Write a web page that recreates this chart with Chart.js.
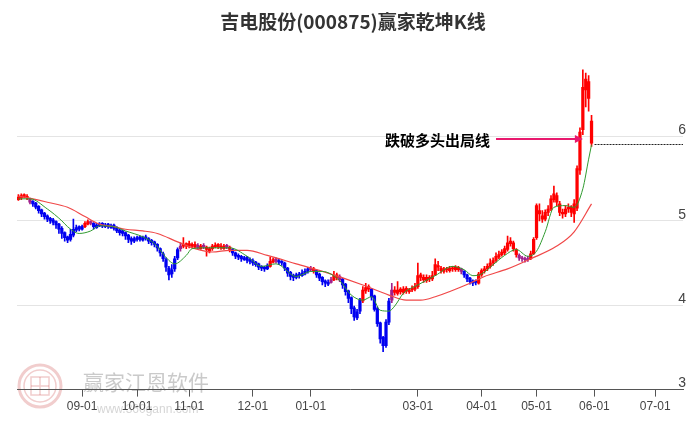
<!DOCTYPE html>
<html>
<head>
<meta charset="utf-8">
<script src="https://cdn.jsdelivr.net/npm/chart.js@4.4.1/dist/chart.umd.min.js"></script>
<style>
  html, body { margin: 0; padding: 0; background: #fff; }
  #wrap { width: 689px; height: 427px; position: relative; }
</style>
</head>
<body>
<div id="wrap"><canvas id="kline"></canvas></div>
<script>
// daily K-line values (trading day index 0..198)
const openPrices = [
  5.25, 5.27, 5.31, 5.29, 5.26, 5.23, 5.21, 5.17, 5.13, 5.09,
  5.06, 5.03, 5.01, 4.99, 4.96, 4.91, 4.86, 4.81, 4.78, 4.83,
  4.89, 4.93, 4.90, 4.93, 4.96, 4.99, 4.97, 4.92, 4.94, 4.97,
  4.93, 4.96, 4.92, 4.95, 4.92, 4.89, 4.88, 4.86, 4.83, 4.79,
  4.76, 4.78, 4.81, 4.77, 4.81, 4.79, 4.77, 4.75, 4.72, 4.67,
  4.61, 4.54, 4.44, 4.37, 4.43, 4.56, 4.67, 4.70, 4.73, 4.70,
  4.72, 4.69, 4.71, 4.67, 4.71, 4.69, 4.64, 4.67, 4.69, 4.72,
  4.70, 4.67, 4.71, 4.69, 4.66, 4.62, 4.59, 4.58, 4.54, 4.57,
  4.54, 4.53, 4.51, 4.49, 4.46, 4.45, 4.43, 4.46, 4.51, 4.55,
  4.53, 4.52, 4.50, 4.44, 4.39, 4.35, 4.33, 4.37, 4.35, 4.37,
  4.40, 4.44, 4.43, 4.41, 4.37, 4.33, 4.29, 4.25, 4.27, 4.30,
  4.36, 4.34, 4.31, 4.25, 4.17, 4.09, 3.97, 3.85, 3.93, 4.05,
  4.17, 4.22, 4.19, 4.11, 3.96, 3.79, 3.62, 3.52, 3.80, 4.06,
  4.18, 4.14, 4.19, 4.15, 4.20, 4.16, 4.18, 4.19, 4.22, 4.36,
  4.33, 4.29, 4.33, 4.31, 4.36, 4.47, 4.44, 4.40, 4.43, 4.41,
  4.44, 4.42, 4.45, 4.43, 4.40, 4.36, 4.32, 4.29, 4.27, 4.26,
  4.36, 4.41, 4.43, 4.46, 4.50, 4.53, 4.57, 4.60, 4.62, 4.66,
  4.73, 4.74, 4.66, 4.59, 4.56, 4.55, 4.54, 4.55, 4.61, 4.80,
  5.12, 5.06, 5.02, 5.10, 5.14, 5.25, 5.30, 5.20, 5.10, 5.08,
  5.14, 5.16, 5.08, 5.15, 5.60, 6.08, 6.55, 6.65, 5.92
];
const closePrices = [
  5.28, 5.30, 5.29, 5.27, 5.22, 5.20, 5.16, 5.12, 5.08, 5.05,
  5.02, 5.00, 4.98, 4.95, 4.90, 4.85, 4.80, 4.77, 4.84, 4.90,
  4.92, 4.90, 4.93, 4.97, 4.99, 4.97, 4.93, 4.95, 4.96, 4.94,
  4.95, 4.93, 4.94, 4.91, 4.88, 4.86, 4.85, 4.82, 4.78, 4.76,
  4.79, 4.80, 4.78, 4.80, 4.79, 4.76, 4.74, 4.72, 4.68, 4.62,
  4.55, 4.45, 4.36, 4.42, 4.55, 4.66, 4.70, 4.72, 4.70, 4.73,
  4.70, 4.72, 4.68, 4.70, 4.69, 4.66, 4.67, 4.70, 4.71, 4.69,
  4.68, 4.70, 4.69, 4.66, 4.62, 4.58, 4.57, 4.55, 4.56, 4.53,
  4.52, 4.50, 4.48, 4.45, 4.44, 4.43, 4.47, 4.52, 4.54, 4.52,
  4.51, 4.50, 4.44, 4.38, 4.34, 4.33, 4.36, 4.35, 4.38, 4.40,
  4.43, 4.42, 4.41, 4.36, 4.32, 4.28, 4.26, 4.27, 4.30, 4.35,
  4.33, 4.30, 4.24, 4.16, 4.08, 3.96, 3.86, 3.92, 4.06, 4.18,
  4.21, 4.19, 4.10, 3.95, 3.78, 3.60, 3.52, 3.80, 4.05, 4.18,
  4.15, 4.18, 4.16, 4.19, 4.17, 4.18, 4.20, 4.22, 4.35, 4.33,
  4.30, 4.33, 4.31, 4.35, 4.48, 4.45, 4.41, 4.43, 4.42, 4.44,
  4.43, 4.45, 4.42, 4.40, 4.36, 4.31, 4.28, 4.26, 4.28, 4.37,
  4.41, 4.43, 4.46, 4.50, 4.53, 4.58, 4.60, 4.63, 4.67, 4.74,
  4.76, 4.67, 4.60, 4.56, 4.55, 4.54, 4.55, 4.61, 4.78, 5.18,
  5.08, 5.02, 5.10, 5.14, 5.26, 5.32, 5.22, 5.10, 5.08, 5.14,
  5.16, 5.10, 5.20, 5.62, 6.05, 6.58, 6.68, 6.45, 6.18
];
const highPrices = [
  5.31, 5.32, 5.32, 5.31, 5.27, 5.24, 5.22, 5.18, 5.14, 5.10,
  5.07, 5.04, 5.03, 5.00, 4.97, 4.93, 4.87, 4.82, 4.90, 5.02,
  4.95, 4.94, 4.95, 4.99, 5.01, 5.00, 4.98, 4.97, 4.98, 4.98,
  4.97, 4.97, 4.96, 4.96, 4.93, 4.90, 4.89, 4.87, 4.84, 4.81,
  4.81, 4.82, 4.82, 4.82, 4.83, 4.80, 4.78, 4.76, 4.73, 4.68,
  4.63, 4.56, 4.46, 4.48, 4.58, 4.68, 4.74, 4.80, 4.74, 4.76,
  4.74, 4.75, 4.73, 4.72, 4.73, 4.70, 4.69, 4.72, 4.74, 4.73,
  4.73, 4.72, 4.72, 4.70, 4.67, 4.63, 4.61, 4.59, 4.58, 4.58,
  4.56, 4.55, 4.52, 4.50, 4.47, 4.46, 4.49, 4.57, 4.56, 4.56,
  4.55, 4.53, 4.51, 4.45, 4.40, 4.37, 4.38, 4.39, 4.42, 4.43,
  4.45, 4.46, 4.45, 4.42, 4.38, 4.34, 4.30, 4.30, 4.33, 4.40,
  4.38, 4.36, 4.32, 4.26, 4.18, 4.10, 3.99, 3.95, 4.08, 4.22,
  4.26, 4.24, 4.20, 4.12, 3.98, 3.80, 3.63, 3.83, 4.08, 4.26,
  4.22, 4.28, 4.21, 4.22, 4.22, 4.20, 4.23, 4.26, 4.50, 4.38,
  4.36, 4.36, 4.35, 4.40, 4.55, 4.52, 4.46, 4.45, 4.45, 4.46,
  4.46, 4.47, 4.46, 4.44, 4.41, 4.37, 4.33, 4.30, 4.30, 4.39,
  4.43, 4.46, 4.49, 4.55, 4.56, 4.62, 4.64, 4.66, 4.70, 4.82,
  4.80, 4.76, 4.67, 4.61, 4.58, 4.57, 4.58, 4.64, 4.80, 5.20,
  5.20, 5.12, 5.13, 5.18, 5.30, 5.41, 5.33, 5.23, 5.14, 5.18,
  5.20, 5.18, 5.25, 5.65, 6.10, 6.79, 6.75, 6.72, 6.25
];
const lowPrices = [
  5.24, 5.25, 5.27, 5.25, 5.20, 5.17, 5.14, 5.09, 5.05, 5.02,
  4.99, 4.97, 4.95, 4.91, 4.85, 4.79, 4.76, 4.74, 4.76, 4.81,
  4.87, 4.88, 4.89, 4.92, 4.95, 4.95, 4.90, 4.91, 4.93, 4.92,
  4.92, 4.91, 4.91, 4.89, 4.86, 4.83, 4.82, 4.78, 4.74, 4.72,
  4.74, 4.76, 4.76, 4.76, 4.77, 4.73, 4.71, 4.69, 4.64, 4.58,
  4.52, 4.40, 4.30, 4.33, 4.40, 4.54, 4.64, 4.68, 4.67, 4.68,
  4.68, 4.67, 4.66, 4.66, 4.67, 4.58, 4.62, 4.65, 4.68, 4.67,
  4.66, 4.66, 4.67, 4.63, 4.59, 4.55, 4.54, 4.52, 4.53, 4.50,
  4.49, 4.47, 4.46, 4.42, 4.41, 4.40, 4.42, 4.45, 4.50, 4.50,
  4.48, 4.47, 4.41, 4.34, 4.30, 4.29, 4.31, 4.32, 4.34, 4.36,
  4.38, 4.40, 4.38, 4.33, 4.29, 4.24, 4.22, 4.23, 4.26, 4.29,
  4.30, 4.28, 4.20, 4.12, 4.03, 3.90, 3.82, 3.83, 3.90, 4.03,
  4.14, 4.16, 4.06, 3.93, 3.75, 3.55, 3.45, 3.50, 3.77, 4.03,
  4.12, 4.12, 4.13, 4.13, 4.14, 4.14, 4.16, 4.17, 4.20, 4.29,
  4.27, 4.27, 4.28, 4.29, 4.35, 4.41, 4.38, 4.38, 4.39, 4.39,
  4.40, 4.40, 4.40, 4.37, 4.33, 4.28, 4.25, 4.23, 4.24, 4.25,
  4.34, 4.38, 4.41, 4.44, 4.47, 4.51, 4.55, 4.58, 4.60, 4.64,
  4.70, 4.64, 4.57, 4.53, 4.52, 4.51, 4.52, 4.54, 4.60, 4.78,
  5.00, 4.98, 5.00, 5.06, 5.12, 5.22, 5.18, 5.06, 5.03, 5.05,
  5.10, 5.05, 4.98, 5.12, 5.55, 6.02, 6.35, 6.30, 5.88
];
// 1 = bull (red), -1 = bear (blue), 0 = neutral (purple)
const trendState = [
  1, 1, 1, 1, 0, -1, -1, -1, -1, -1,
  -1, -1, -1, -1, -1, -1, -1, -1, -1, -1,
  -1, -1, -1, 1, 1, 0, -1, -1, -1, -1,
  -1, -1, -1, -1, -1, -1, -1, -1, -1, -1,
  -1, -1, -1, -1, -1, -1, -1, -1, -1, -1,
  -1, -1, -1, -1, -1, -1, 0, 1, 1, 1,
  1, 1, 0, 1, 0, 1, 1, 1, 1, 1,
  1, 1, 0, 1, -1, -1, -1, -1, -1, -1,
  -1, -1, -1, -1, -1, -1, -1, 1, 1, 0,
  -1, -1, -1, -1, -1, -1, -1, -1, -1, -1,
  -1, 0, 1, -1, -1, -1, -1, -1, 0, 1,
  1, 0, -1, -1, -1, -1, -1, -1, -1, 1,
  1, 1, -1, -1, -1, -1, -1, -1, -1, 0,
  1, 1, 1, 1, 1, 1, 1, 1, 1, 1,
  1, 1, 1, 1, 1, 1, 1, 1, 1, 1,
  1, 1, 1, 0, -1, -1, -1, -1, -1, 1,
  1, 1, 1, 1, 1, 1, 1, 1, 1, 1,
  1, 1, 1, 0, 0, 0, 0, 1, 1, 1,
  1, 1, 1, 1, 1, 1, 1, 1, 1, 1,
  1, 1, 1, 1, 1, 1, 1, 1, 1
];

// moving average lines, read at sample days
const maShortDays = [0, 4, 10, 15, 17, 21, 25, 28, 33, 37, 43, 47, 52, 54, 58, 60, 65, 73, 79, 84,
  89, 96, 101, 105, 111, 115, 119, 122, 125, 128, 130, 133, 138, 144, 150, 154, 157, 160, 164, 168,
  172, 176, 179, 182, 185, 189, 192, 195, 197, 198];
const maShortValues = [5.26, 5.26, 5.14, 5.00, 4.93, 4.85, 4.88, 4.94, 4.93, 4.88, 4.81, 4.73, 4.53, 4.49, 4.59, 4.67, 4.68, 4.68, 4.58, 4.46,
  4.49, 4.34, 4.40, 4.40, 4.29, 4.12, 4.06, 4.10, 3.94, 3.93, 3.99, 4.14, 4.24, 4.35, 4.46, 4.42, 4.35, 4.37, 4.48, 4.59,
  4.66, 4.58, 4.64, 4.87, 5.16, 5.18, 5.16, 5.38, 5.73, 5.90];
const maLongDays = [0, 2, 10, 17, 23, 28, 33, 37, 43, 48, 55, 61, 67, 73, 79, 86, 96, 107, 119, 128,
  134, 139, 144, 156, 161, 169, 177, 186, 192, 198];
const maLongValues = [5.29, 5.28, 5.22, 5.16, 5.05, 4.96, 4.93, 4.90, 4.88, 4.85, 4.75, 4.67, 4.63, 4.65, 4.65, 4.59, 4.49, 4.38, 4.24, 4.12,
  4.06, 4.06, 4.10, 4.26, 4.34, 4.43, 4.55, 4.70, 4.87, 5.20];

// axis labels
const monthTickDays = [22, 41, 59, 81, 101, 138, 160, 179, 199, 220];
const monthTickLabels = ['09-01', '10-01', '11-01', '12-01', '01-01', '03-01', '04-01', '05-01', '06-01', '07-01'];
const priceTicks = [3, 4, 5, 6];

// signal annotation
const exitLabel = '跌破多头出局线';
const exitLevel = 5.91;

const COLORS = { up: '#ff0000', down: '#0000f0', flat: '#a0208c' };
function candleColor(ctx) {
  const s = trendState[ctx.dataIndex];
  return s > 0 ? COLORS.up : (s < 0 ? COLORS.down : COLORS.flat);
}

const wickData = lowPrices.map((lo, i) => ({ x: i, y: [lo, highPrices[i]] }));
const bodyData = openPrices.map((op, i) => ({ x: i, y: [op, closePrices[i]] }));

// watermark (drawn under everything)
const watermarkPlugin = {
  id: 'watermark',
  beforeDraw(chart) {
    const ctx = chart.ctx;
    ctx.save();
    ctx.strokeStyle = 'rgba(210, 90, 90, 0.3)';
    ctx.lineWidth = 3;
    ctx.beginPath(); ctx.arc(40, 386, 21, 0, Math.PI * 2); ctx.stroke();
    ctx.lineWidth = 1.5;
    ctx.beginPath(); ctx.arc(40, 386, 16, 0, Math.PI * 2); ctx.stroke();
    ctx.strokeRect(31, 377, 18, 18);
    ctx.beginPath();
    ctx.moveTo(40, 377); ctx.lineTo(40, 395);
    ctx.moveTo(31, 386); ctx.lineTo(49, 386);
    ctx.stroke();
    ctx.fillStyle = 'rgba(150, 150, 150, 0.5)';
    ctx.textBaseline = 'middle';
    ctx.font = '21px "Noto Sans CJK SC"';
    ctx.fillText('赢家江恩软件', 83, 382);
    ctx.font = '12px "Liberation Sans"';
    ctx.fillStyle = 'rgba(150, 150, 150, 0.4)';
    ctx.fillText('www.360gann.com', 97, 410);
    ctx.restore();
  }
};

// exit signal: label, arrow, dashed level line
const signalPlugin = {
  id: 'signal',
  afterDatasetsDraw(chart) {
    const { ctx, chartArea } = chart;
    const x = chart.scales.x, y = chart.scales.y;
    const lastDay = closePrices.length - 1;
    ctx.save();
    // dashed level after the last candle
    const ly = Math.round(y.getPixelForValue(exitLevel)) + 0.5;
    ctx.strokeStyle = '#222';
    ctx.lineWidth = 1;
    ctx.setLineDash([2, 1]);
    ctx.beginPath();
    ctx.moveTo(x.getPixelForValue(lastDay) + 3, ly);
    ctx.lineTo(chartArea.right, ly);
    ctx.stroke();
    ctx.setLineDash([]);
    // arrow
    const ay = y.getPixelForValue(exitLevel + 0.06);
    const ax0 = x.getPixelForValue(165);
    const ax1 = x.getPixelForValue(195);
    ctx.strokeStyle = '#e8196e';
    ctx.fillStyle = '#e8196e';
    ctx.lineWidth = 2;
    ctx.beginPath();
    ctx.moveTo(ax0, ay);
    ctx.lineTo(ax1 - 6, ay);
    ctx.stroke();
    ctx.beginPath();
    ctx.moveTo(ax1, ay);
    ctx.lineTo(ax1 - 8, ay - 4);
    ctx.lineTo(ax1 - 8, ay + 4);
    ctx.closePath();
    ctx.fill();
    // label
    ctx.fillStyle = '#000';
    ctx.font = 'bold 15px "Noto Sans CJK SC"';
    ctx.textAlign = 'right';
    ctx.textBaseline = 'middle';
    ctx.fillText(exitLabel, ax0 - 6, ay + 1);
    ctx.restore();
  }
};

Chart.defaults.font.family = '"Liberation Sans", Arial, sans-serif';

new Chart(document.getElementById('kline'), {
  type: 'bar',
  data: {
    datasets: [
      {
        type: 'line',
        data: maShortDays.map((d, k) => ({ x: d, y: maShortValues[k] })),
        borderColor: '#2f9a2f',
        borderWidth: 1,
        pointRadius: 0,
        cubicInterpolationMode: 'monotone',
        order: 0
      },
      {
        type: 'line',
        data: maLongDays.map((d, k) => ({ x: d, y: maLongValues[k] })),
        borderColor: '#f04848',
        borderWidth: 1.2,
        pointRadius: 0,
        cubicInterpolationMode: 'monotone',
        order: 1
      },
      {
        data: bodyData,
        backgroundColor: candleColor,
        barThickness: 2.6,
        minBarLength: 1,
        grouped: false,
        order: 2
      },
      {
        data: wickData,
        backgroundColor: candleColor,
        barThickness: 1,
        grouped: false,
        order: 3
      }
    ]
  },
  options: {
    responsive: true,
    maintainAspectRatio: false,
    animation: false,
    events: [],
    layout: { padding: { left: 17, right: 0, top: 0, bottom: 10 } },
    plugins: {
      legend: { display: false },
      tooltip: { enabled: false },
      title: {
        display: true,
        text: '吉电股份(000875)赢家乾坤K线',
        color: '#333',
        font: { size: 19, weight: 'bold', family: '"Noto Sans CJK SC"' },
        padding: { top: 10, bottom: 4 }
      }
    },
    scales: {
      x: {
        type: 'linear',
        min: -0.48,
        max: 229.6,
        offset: false,
        afterBuildTicks: axis => { axis.ticks = monthTickDays.map(v => ({ value: v })); },
        ticks: {
          autoSkip: false,
          maxRotation: 0,
          color: '#444',
          font: { size: 12 },
          padding: 3,
          callback: (v, i) => monthTickLabels[i]
        },
        grid: { offset: false, drawOnChartArea: false, drawTicks: true, tickLength: 7, color: '#555' },
        border: { color: '#555', width: 1 }
      },
      y: {
        position: 'right',
        min: 3,
        max: 7.18,
        afterBuildTicks: axis => { axis.ticks = priceTicks.map(v => ({ value: v })); },
        ticks: {
          mirror: true,
          padding: 3,
          labelOffset: -6,
          color: '#444',
          font: { size: 14 }
        },
        grid: { color: '#e4e4e4', drawTicks: false },
        border: { display: false }
      }
    }
  },
  plugins: [watermarkPlugin, signalPlugin]
});
</script>
</body>
</html>
